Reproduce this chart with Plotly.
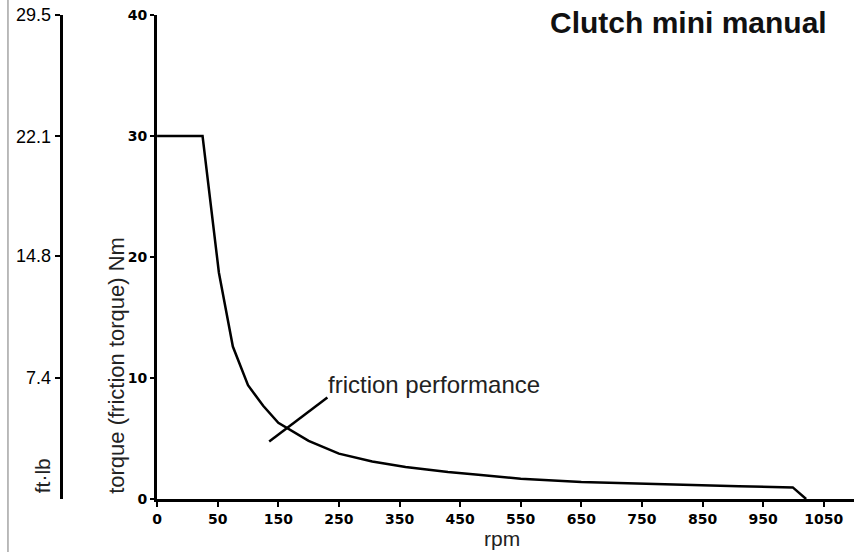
import plotly.graph_objects as go

# friction performance curve, x in axis units (tick labels below), torque in Nm
rpm_pos = [0, 75, 102, 125, 150, 175, 200, 250, 300, 355, 410, 480, 530, 600,
           700, 800, 900, 960, 1049, 1071]
torque_nm = [30, 30, 18.7, 12.6, 9.4, 7.7, 6.3, 4.8, 3.75, 3.1, 2.64, 2.23, 2.0,
             1.67, 1.4, 1.25, 1.12, 1.05, 0.96, 0]

x_tick_text = ["0", "50", "150", "250", "350", "450", "550", "650", "750",
               "850", "950", "1050"]
nm_ticks = [0, 10, 20, 30, 40]
ftlb_ticks = [7.4, 14.8, 22.1, 29.5]

W, H = 854, 552
M_T, M_B = 15, 53
PLOT_H = H - M_T - M_B


def px(x):
    return x / W


def py(y):
    return (H - M_B - y) / PLOT_H


reg = "Liberation Sans, Arial, sans-serif"
bold_font = dict(family="DejaVu Sans, sans-serif", size=14, color="black", weight="bold")

fig = go.Figure()
fig.add_trace(go.Scatter(
    x=rpm_pos, y=torque_nm, mode="lines",
    line=dict(color="black", width=2.5),
    hoverinfo="skip", showlegend=False
))
# invisible trace to bring up the ft·lb axis
fig.add_trace(go.Scatter(x=[0], y=[0], yaxis="y2", mode="markers",
                         marker=dict(opacity=0), hoverinfo="skip", showlegend=False))

fig.update_layout(
    width=W, height=H,
    margin=dict(l=0, r=0, t=M_T, b=M_B),
    plot_bgcolor="white", paper_bgcolor="white",
    xaxis=dict(
        domain=[px(153), 1], range=[0, 1150],
        tickvals=[i * 100 for i in range(len(x_tick_text))], ticktext=x_tick_text,
        tickfont=bold_font, ticks="outside", ticklen=5, tickwidth=2, tickcolor="black",
        showline=True, linewidth=3, linecolor="black",
        showgrid=False, zeroline=False, fixedrange=True
    ),
    yaxis=dict(
        range=[0, 40], tickvals=nm_ticks,
        tickfont=bold_font, ticks="outside", ticklen=4, tickwidth=2, tickcolor="black",
        showline=True, linewidth=3, linecolor="black",
        showgrid=False, zeroline=False, fixedrange=True
    ),
    yaxis2=dict(
        overlaying="y", anchor="free", position=px(56), side="left",
        range=[0, 29.5], tickvals=ftlb_ticks, ticktext=[str(v) for v in ftlb_ticks],
        tickfont=dict(family=reg, size=18, color="black"),
        ticks="outside", ticklen=5, tickwidth=2, tickcolor="black",
        showline=True, linewidth=3, linecolor="black",
        showgrid=False, zeroline=False, fixedrange=True
    ),
)

fig.add_annotation(text="<b>Clutch mini manual</b>", xref="paper", yref="paper",
                   x=px(829), y=py(22), xanchor="right", yanchor="middle",
                   showarrow=False, font=dict(family=reg, size=30, color="#111"))
fig.add_annotation(text="torque (friction torque) Nm", xref="paper", yref="paper",
                   x=px(112), y=py(496), xanchor="center", yanchor="bottom",
                   textangle=-90, showarrow=False,
                   font=dict(family=reg, size=22, color="#222"))
fig.add_annotation(text="ft·lb", xref="paper", yref="paper",
                   x=px(38), y=py(495), xanchor="center", yanchor="bottom",
                   textangle=-90, showarrow=False,
                   font=dict(family=reg, size=21, color="#222"))
fig.add_annotation(text="rpm", xref="paper", yref="paper",
                   x=px(500), y=py(538), xanchor="center", yanchor="middle",
                   showarrow=False, font=dict(family=reg, size=21, color="#222"))
fig.add_annotation(text="friction performance", xref="x", yref="y",
                   x=279, y=9.45, xanchor="left", yanchor="middle",
                   showarrow=False, font=dict(family=reg, size=24, color="#222"))

# pointer from the label to the curve
fig.add_shape(type="line", xref="x", yref="y", x0=185, y0=4.75, x1=281, y1=8.38,
              line=dict(color="black", width=2.5))
# thin frame line on the left edge
fig.add_shape(type="line", xref="paper", yref="paper", x0=px(3), x1=px(3),
              y0=py(552), y1=py(0), line=dict(color="#777", width=1))

fig.write_html("out.html", config={"displayModeBar": False},
               post_script="document.body.style.margin='0px';")
